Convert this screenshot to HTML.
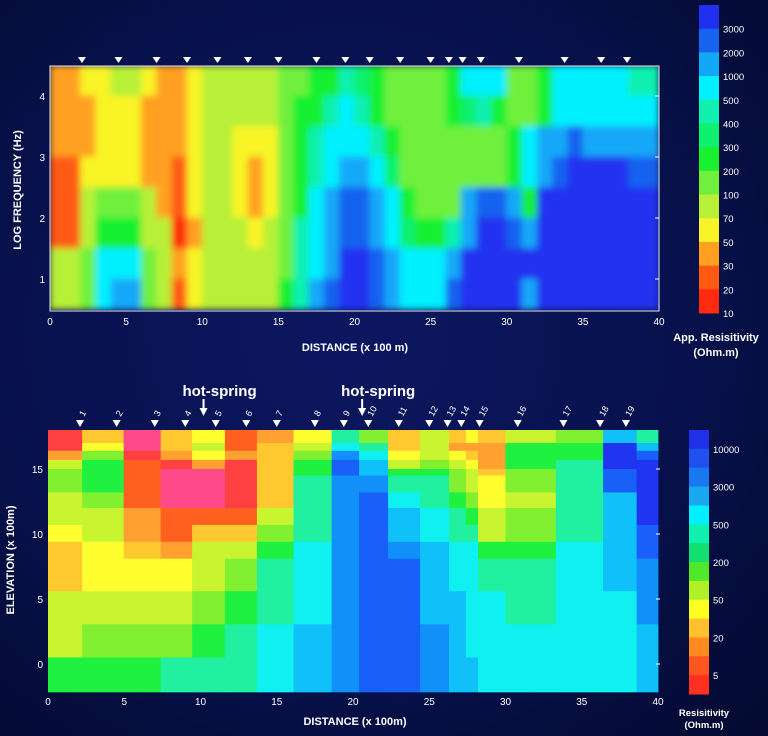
<!DOCTYPE html>
<html><head><meta charset="utf-8">
<style>
html,body{margin:0;padding:0;}
body{width:768px;height:736px;overflow:hidden;background:radial-gradient(ellipse at 45% 45%,#0c1760 0%,#081250 50%,#040a30 100%);font-family:"Liberation Sans",sans-serif;}
svg{position:absolute;left:0;top:0;}
text{fill:#fff;font-family:"Liberation Sans",sans-serif;}
</style></head>
<body>
<svg id="chart" width="768" height="736" viewBox="0 0 768 736">
<defs>
<clipPath id="clipTop"><rect x="50" y="66" width="609" height="245"/></clipPath>
<filter id="soft" x="0" y="0" width="1" height="1"><feGaussianBlur stdDeviation="3.5" edgeMode="duplicate"/></filter>
</defs>
</svg>
<script>
// ---------- data ----------
const stations=[2.1,4.5,7.0,9.0,11.0,13.0,15.0,17.5,19.4,21.0,23.0,25.0,26.2,27.1,28.3,30.8,33.8,36.2,37.9];
const topXTicks=[0,5,10,15,20,25,30,35,40];
const topYTicks=[1,2,3,4];
const topRowLogF=[4.25,3.75,3.25,2.75,2.25,1.75,1.25,0.75];
const topBandLabels=["3000","2000","1000","500","400","300","200","100","70","50","30","20","10"];
// apparent resistivity class (0=10-20 ... 12=>3000), rows from logF 4.5 down, 40 columns of 1 unit
const topR0=[2,2,3,3,4,4,3,2,2,3,4,4,4,4,4,5,5,6,6,8,7,6,5,5,5,5,6,9,9,9,5,5,6,9,9,9,9,9,8,8];
const topR1=[2,2,2,3,3,3,2,2,2,3,4,4,4,4,4,5,6,6,8,9,8,6,5,5,5,5,6,7,8,6,5,5,6,9,9,9,9,9,9,9];
const topR2=[2,2,2,3,3,3,2,2,2,3,4,4,3,3,3,5,6,8,9,9,9,8,6,5,5,5,5,5,5,5,6,9,10,10,11,10,10,10,10,10];
const topR3=[1,1,3,3,3,3,2,2,1,3,4,4,3,2,3,5,6,8,9,10,10,9,7,5,5,5,5,5,5,5,6,9,10,11,12,12,12,12,11,11];
const topR4=[1,1,4,5,5,5,4,2,1,3,4,4,3,2,3,5,6,9,10,11,11,10,9,6,5,5,5,10,11,11,10,6,12,12,12,12,12,12,12,12];
const topR5=[1,1,4,6,6,6,4,4,0,2,4,4,4,3,4,5,8,9,10,11,11,10,9,7,6,6,8,10,12,12,11,10,12,12,12,12,12,12,12,12];
const topR6=[4,4,5,9,9,9,5,4,2,3,4,4,4,4,4,5,8,9,10,12,12,11,10,9,9,9,10,12,12,12,12,12,12,12,12,12,12,12,12,12];
const topR7=[4,4,5,9,10,10,5,4,1,3,4,4,4,4,4,6,8,10,11,12,12,11,10,9,9,9,11,12,12,12,12,10,12,12,12,12,12,12,12,12];
const topRows=[topR0,topR1,topR2,topR3,topR4,topR5,topR6,topR7];
const topColors=["#ff2a10","#ff5a14","#ffa020","#f8f428","#b8f038","#70f03c","#18f030","#10f070","#10f0b0","#00f0ff","#12a8f8","#1862f0","#2030f0"];

const botXTicks=[0,5,10,15,20,25,30,35,40];
const botYTicks=[0,5,10,15];
const botColEdges=[0,2.24,4.96,7.39,9.45,11.6,13.7,16.1,18.6,20.4,22.3,24.4,26.3,27.4,28.2,30.0,33.3,36.4,38.6,40];
const botRowEdges=[18,17.0,16.4,15.7,15.0,14.5,13.2,12.0,10.7,9.4,8.1,5.6,3.05,0.5,-2.15];
const botBandLabels=["10000","3000","500","200","50","20","5"];
// resistivity class per column (0=pink lowest ... 14=deep blue), 14 rows top->bottom
const botC1=[1,1,3,6,7,7,6,6,5,4,4,6,6,8];
const botC2=[4,5,7,8,8,8,7,6,6,5,5,6,7,8];
const botC3=[0,0,1,2,2,2,2,3,3,4,5,6,7,8];
const botC4=[4,4,3,1,0,0,0,2,2,3,5,6,7,9];
const botC5=[5,6,5,3,0,0,0,2,4,6,6,7,8,9];
const botC6=[2,2,3,1,1,1,1,2,4,6,7,8,9,9];
const botC7=[3,4,4,4,4,4,4,6,7,8,9,9,10,10];
const botC8=[5,6,7,8,8,9,9,9,9,10,10,10,11,11];
const botC9=[9,10,12,13,13,12,12,12,12,12,12,12,12,12];
const botC10=[7,9,10,11,11,12,13,13,13,13,13,13,13,13];
const botC11=[4,4,5,6,8,9,10,11,11,12,13,13,13,13];
const botC12=[6,6,6,7,8,9,9,10,10,11,11,11,12,12];
const botC13=[4,3,5,6,7,7,8,9,9,10,10,11,11,11];
const botC14=[5,3,4,5,6,6,7,8,9,10,10,10,10,11];
const botC15=[4,3,3,3,4,5,5,6,6,8,9,10,10,10];
const botC16=[6,8,8,8,7,7,6,7,7,8,9,9,10,10];
const botC17=[7,8,8,9,9,9,9,9,9,10,10,10,10,10];
const botC18=[11,14,14,14,13,13,11,11,11,11,11,10,10,10];
const botC19=[9,11,13,14,14,14,14,14,13,13,12,12,11,11];
const botCols=[botC1,botC2,botC3,botC4,botC5,botC6,botC7,botC8,botC9,botC10,botC11,botC12,botC13,botC14,botC15,botC16,botC17,botC18,botC19];
const botColors=["#ff4a8a","#ff4040","#ff6020","#ffa030","#ffc830","#ffff30","#c8f530","#80f030","#20f040","#20f0a0","#10f0f0","#10c0f8","#1090f8","#1860f8","#2035f0"];
const botBarColors=["#2030e8","#2050f0","#1878f0","#18a8f0","#00f0ff","#10f0b0","#10e070","#50e828","#b0f028","#ffff20","#ffc030","#ff8a20","#ff5520","#ff3020"];
const hotSprings=[10.2,20.6];

// ---------- helpers ----------
const NS="http://www.w3.org/2000/svg";
const svg=document.getElementById('chart');
function mk(tag,attrs,parent){const e=document.createElementNS(NS,tag);for(const k in attrs)e.setAttribute(k,attrs[k]);(parent||svg).appendChild(e);return e;}
const xT=d=>50+d*15.225;
const yT=f=>279-(f-1)*61;
const xB=d=>48+d*15.25;
const yB=e=>664-e*13;

// ---------- top panel ----------
const gTop=mk('g',{'clip-path':'url(#clipTop)'});


const gTopInner=mk('g',{filter:'url(#soft)'},gTop);
topRows.forEach((row,ri)=>{
  const f=topRowLogF[ri];
  row.forEach((v,ci)=>{
    const r=mk('rect',{x:xT(ci)-0.3,y:yT(f+0.25)-0.3,width:xT(ci+1)-xT(ci)+0.6,height:yT(f-0.25)-yT(f+0.25)+0.6,fill:topColors[v]},gTopInner);
    
    
  });
});
const fT=mk('rect',{x:50,y:66,width:609,height:245,fill:'none',stroke:'#e8e8f0','stroke-width':1});


topXTicks.forEach(t=>{
  const tx=mk('text',{x:xT(t),y:325,'font-size':10,'text-anchor':'middle'});tx.textContent=t;
  
  
});
topYTicks.forEach(t=>{
  const tx=mk('text',{x:45,y:yT(t)+4,'font-size':10,'text-anchor':'end'});tx.textContent=t;
  
  
  mk('line',{x1:655,x2:659,y1:yT(t),y2:yT(t),stroke:'#fff'});
});
stations.forEach(s=>{
  const p=mk('path',{d:`M${xT(s)-4},57 L${xT(s)+4},57 L${xT(s)},63 Z`,fill:'#fff'});
  
  
});
let t1=mk('text',{x:355,y:351,'font-size':11,'font-weight':'bold','text-anchor':'middle'});t1.textContent='DISTANCE (x 100 m)';


let t2=mk('text',{x:0,y:0,'font-size':11,'font-weight':'bold','text-anchor':'middle',transform:'translate(21,190) rotate(-90)'});t2.textContent='LOG FREQUENCY (Hz)';


// top colorbar
const tb0=5,tbH=(313-5)/13;
topBandLabels.forEach((lab,i)=>{
  const r=mk('rect',{x:699,y:tb0+i*tbH,width:20,height:tbH+0.5,fill:topColors[12-i]});
  
  
  const tx=mk('text',{x:723,y:tb0+(i+1)*tbH+4,'font-size':9.5});tx.textContent=lab;
  
  
});
let t3=mk('text',{x:716,y:341,'font-size':11,'font-weight':'bold','text-anchor':'middle'});t3.textContent='App. Resisitivity';


let t4=mk('text',{x:716,y:356,'font-size':11,'font-weight':'bold','text-anchor':'middle'});t4.textContent='(Ohm.m)';



// ---------- bottom panel ----------
const gBot=mk('g',{});


botCols.forEach((col,ci)=>{
  col.forEach((v,ri)=>{
    const x0=xB(botColEdges[ci]),x1=xB(botColEdges[ci+1]);
    const y0=yB(botRowEdges[ri]),y1=yB(botRowEdges[ri+1]);
    const r=mk('rect',{x:x0,y:y0,width:x1-x0+0.4,height:y1-y0+0.4,fill:botColors[v]},gBot);
    
    
  });
});
botXTicks.forEach(t=>{
  const tx=mk('text',{x:xB(t),y:705,'font-size':10,'text-anchor':'middle'});tx.textContent=t;
  
  
});
botYTicks.forEach(t=>{
  const tx=mk('text',{x:43,y:yB(t)+4,'font-size':10,'text-anchor':'end'});tx.textContent=t;
  
  
  mk('line',{x1:656,x2:660,y1:yB(t),y2:yB(t),stroke:'#fff'});
});
stations.forEach((s,i)=>{
  const p=mk('path',{d:`M${xB(s)-4},420 L${xB(s)+4},420 L${xB(s)},427 Z`,fill:'#fff'});
  
  
  const tx=mk('text',{x:0,y:0,'font-size':9,transform:`translate(${xB(s)+4},417) rotate(-60)`});tx.textContent=i+1;
  
  
});
hotSprings.forEach(h=>{
  const x=xB(h);
  const tx=mk('text',{x:x+16,y:396,'font-size':15,'font-weight':'bold','text-anchor':'middle'});tx.textContent='hot-spring';
  
  
  const a=mk('path',{d:`M${x-1},399 L${x+1},399 L${x+1},408 L${x+4},408 L${x},416 L${x-4},408 L${x-1},408 Z`,fill:'#fff'});
  
  
});
let t5=mk('text',{x:355,y:725,'font-size':11,'font-weight':'bold','text-anchor':'middle'});t5.textContent='DISTANCE (x 100m)';


let t6=mk('text',{x:0,y:0,'font-size':11,'font-weight':'bold','text-anchor':'middle',transform:'translate(14,560) rotate(-90)'});t6.textContent='ELEVATION (x 100m)';


// bottom colorbar
const bb0=430,bbH=(694-430)/14;
botBarColors.forEach((c,i)=>{
  const r=mk('rect',{x:689,y:bb0+i*bbH,width:20,height:bbH+0.5,fill:c});
  
  
});
botBandLabels.forEach((lab,i)=>{
  const tx=mk('text',{x:713,y:bb0+(1+2*i)*bbH+4,'font-size':9.5});tx.textContent=lab;
  
  
});
let t7=mk('text',{x:704,y:716,'font-size':9.5,'font-weight':'bold','text-anchor':'middle'});t7.textContent='Resisitivity';


let t8=mk('text',{x:704,y:728,'font-size':9.5,'font-weight':'bold','text-anchor':'middle'});t8.textContent='(Ohm.m)';


</script>
</body></html>
